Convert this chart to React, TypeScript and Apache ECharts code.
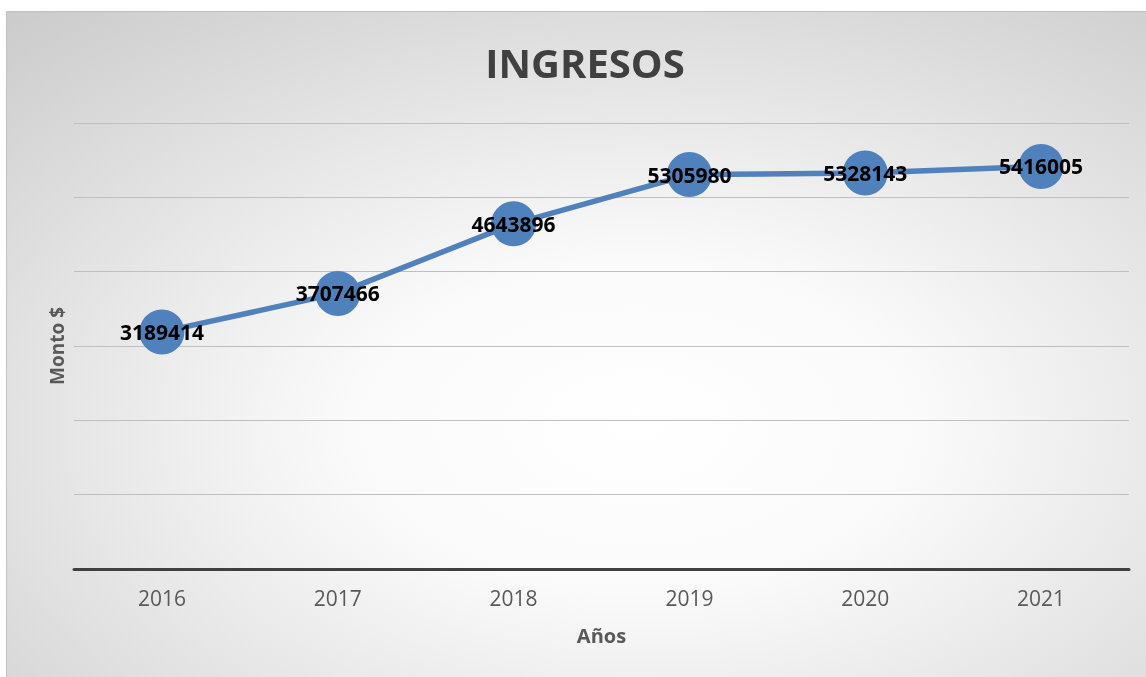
import React, { useEffect, useRef } from "react";
import * as echarts from "echarts";

const years = ["2016", "2017", "2018", "2019", "2020", "2021"];
const ingresos = [3189414, 3707466, 4643896, 5305980, 5328143, 5416005];
const yMin = 0;
const yMax = 6000000;
const yInterval = 1000000;

export default function App() {
  const ref = useRef<HTMLDivElement>(null);
  useEffect(() => {
    const chart = echarts.init(ref.current!, null, { renderer: "svg" });
    chart.setOption({
      animation: false,
      graphic: [
        {
          type: "rect",
          z: -10,
          silent: true,
          shape: { x: 6.5, y: 11.5, width: 1145, height: 670 },
          style: {
            fill: new echarts.graphic.RadialGradient(0.55, 0.62, 1.0, [
              { offset: 0, color: "#ffffff" },
              { offset: 0.25, color: "#fafafa" },
              { offset: 1, color: "#bdbdbd" },
            ]),
            stroke: "#c0c0c0",
            lineWidth: 1,
          },
        },
      ],
      title: {
        text: "INGRESOS",
        left: 580,
        top: 37,
        textAlign: "center",
        textStyle: {
          fontFamily: "Open Sans",
          fontSize: 40,
          fontWeight: "bold",
          color: "#404040",
        },
      },
      grid: { left: 74, right: 17, top: 123, bottom: 108, containLabel: false },
      xAxis: {
        type: "category",
        data: years,
        boundaryGap: true,
        name: "Años",
        nameLocation: "middle",
        nameGap: 56,
        nameTextStyle: {
          fontFamily: "Open Sans",
          fontSize: 20,
          fontWeight: "bold",
          color: "#595959",
        },
        axisLine: { show: true, lineStyle: { color: "#404040", width: 3 } },
        axisTick: { show: false },
        axisLabel: {
          fontFamily: "Open Sans",
          fontSize: 21,
          color: "#595959",
          margin: 18,
        },
      },
      yAxis: {
        type: "value",
        min: yMin,
        max: yMax,
        interval: yInterval,
        name: "Monto $",
        nameLocation: "middle",
        nameGap: 8,
        nameRotate: 90,
        nameTextStyle: {
          fontFamily: "Open Sans",
          fontSize: 19,
          fontWeight: "bold",
          color: "#595959",
        },
        axisLine: { show: false },
        axisTick: { show: false },
        axisLabel: { show: false },
        splitLine: { lineStyle: { color: "#bfbfbf", width: 1 } },
      },
      series: [
        {
          type: "line",
          data: ingresos,
          symbol: "circle",
          symbolSize: 45,
          itemStyle: { color: "#4f81bd" },
          lineStyle: { color: "#4f81bd", width: 5.5 },
          label: {
            show: true,
            position: "inside",
            fontFamily: "Open Sans",
            fontSize: 21,
            fontWeight: "bold",
            color: "#000000",
          },
        },
      ],
    });
    return () => chart.dispose();
  }, []);
  return (
    <div
      ref={ref}
      style={{ position: "fixed", left: 0, top: 0, width: 1146, height: 677 }}
    />
  );
}
